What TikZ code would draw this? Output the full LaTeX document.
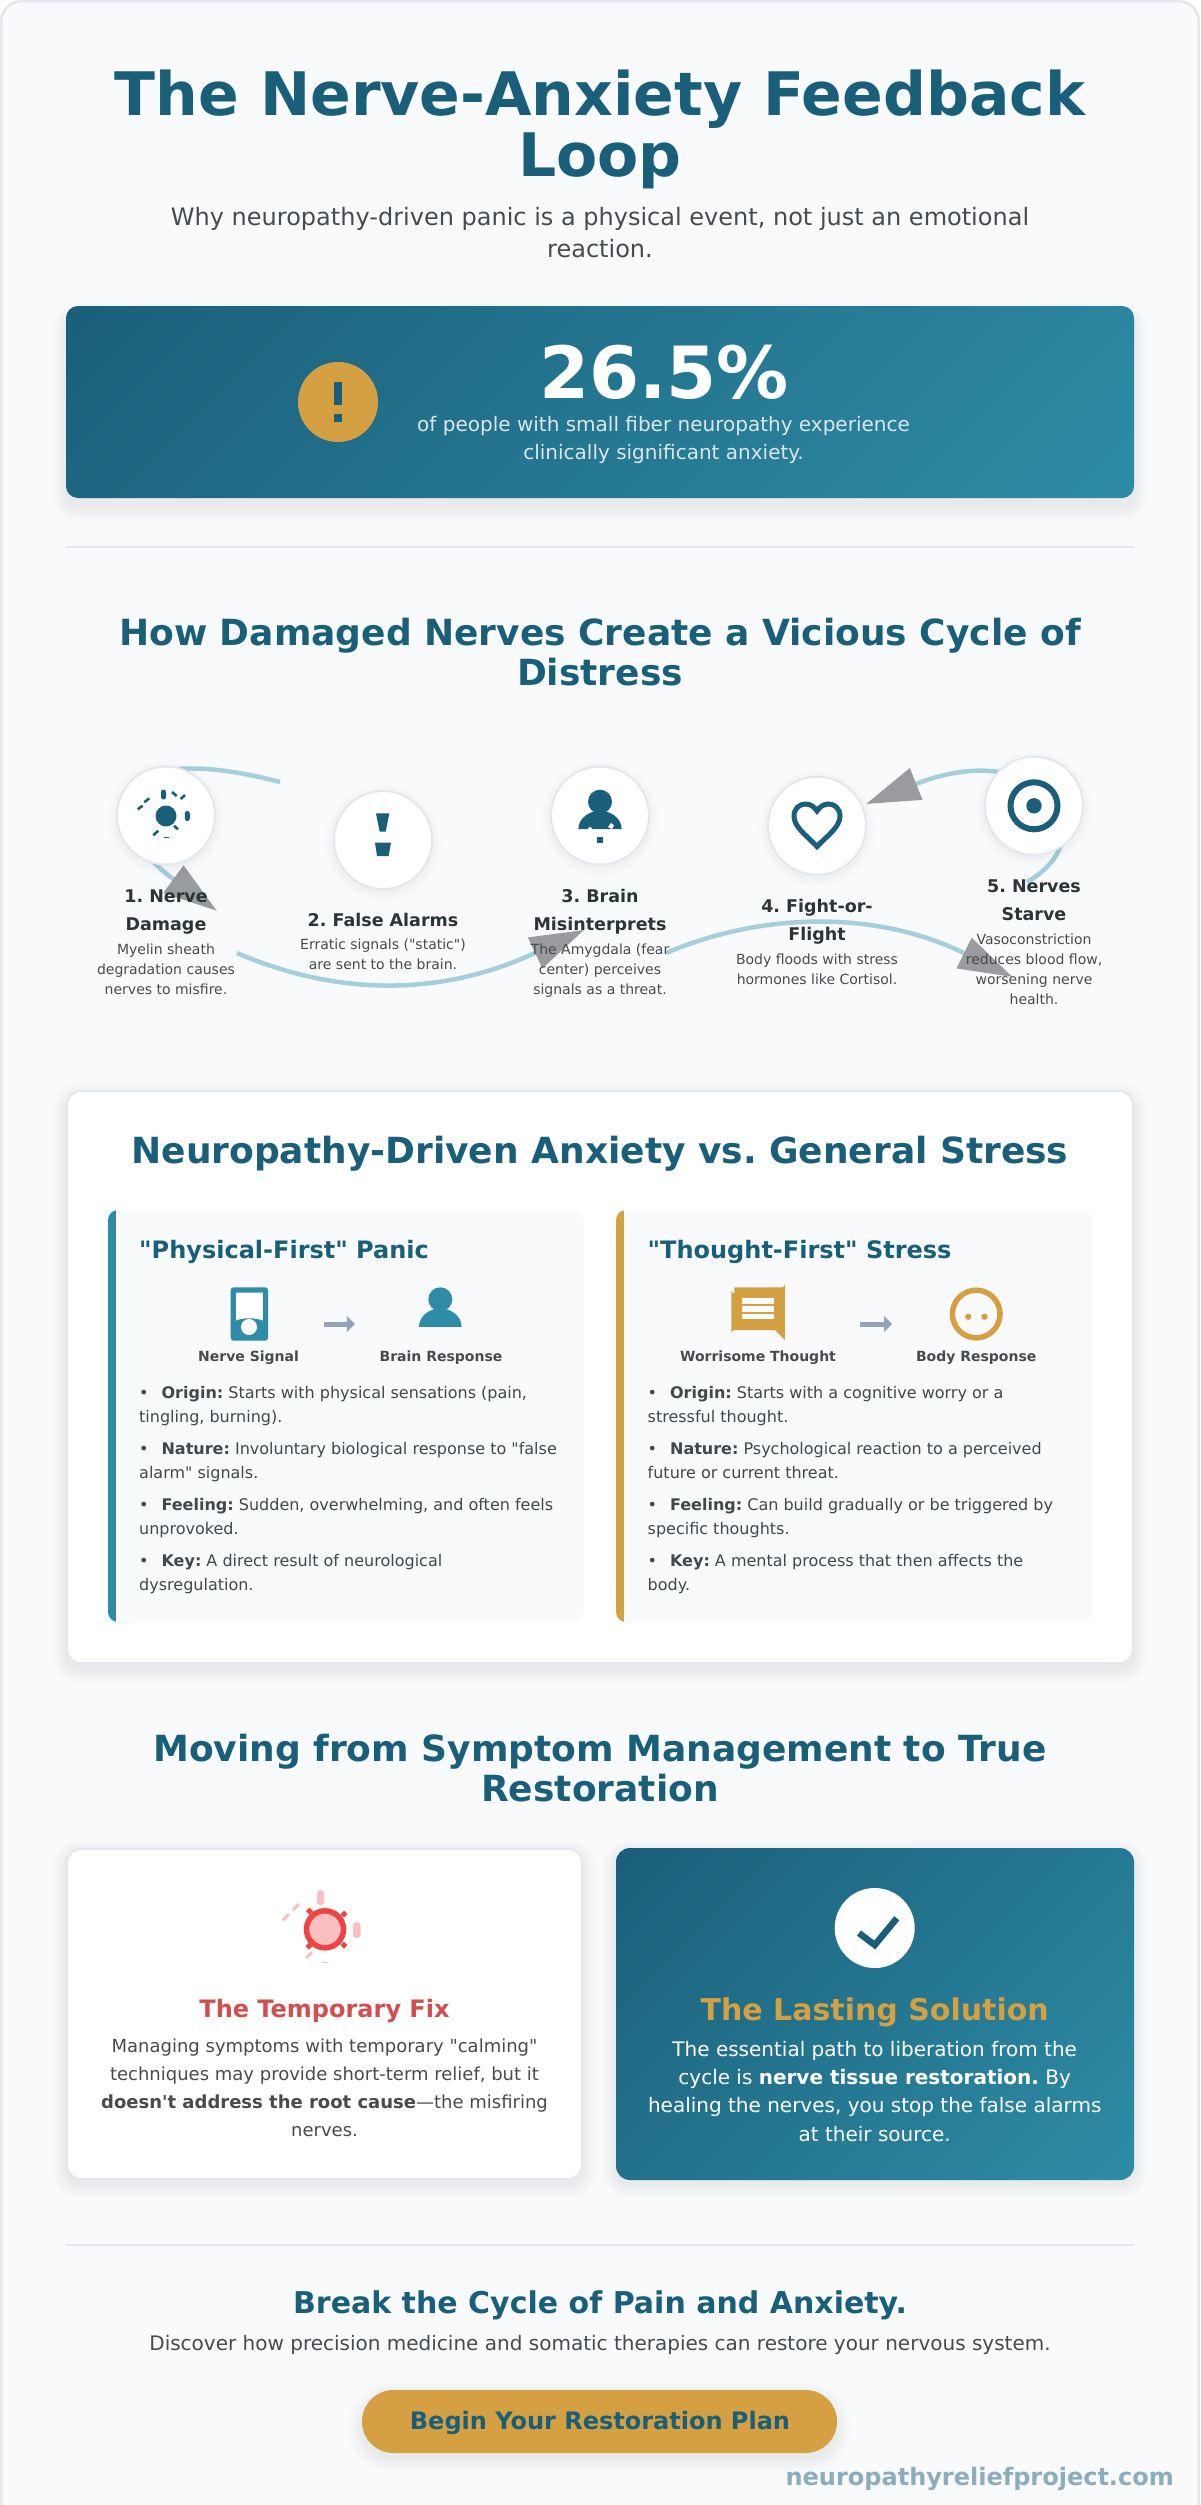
\documentclass[tikz,border=0pt]{standalone}
\usepackage{fontspec}
\setmainfont{DejaVu Sans}[Ligatures=TeXOff]
\usetikzlibrary{arrows.meta}
\definecolor{primary}{HTML}{1A5F7A}
\definecolor{lightprimary}{HTML}{2E8CA6}
\definecolor{gold}{HTML}{D4A041}
\definecolor{pagebg}{HTML}{F8FAFC}
\definecolor{rulegray}{HTML}{E4E8EE}
\definecolor{darktext}{HTML}{2D3436}
\definecolor{softtext}{HTML}{484B4E}
\definecolor{arcblue}{HTML}{A5CFDA}
\definecolor{headgray}{HTML}{999B9E}
\definecolor{flowgray}{HTML}{94A3B8}
\definecolor{alarmred}{HTML}{EF4444}
\definecolor{alarmpink}{HTML}{FBBFBF}
\definecolor{fixred}{HTML}{D14F4F}
\definecolor{siteblue}{HTML}{8CADBB}
\tikzstyle{every node}=[inner sep=0pt,anchor=base]
\tikzstyle{maintitle}=[font=\fontsize{60}{61}\selectfont\bfseries,text=primary,align=center]
\tikzstyle{subtitle}=[font=\fontsize{24}{31.5}\selectfont,text=softtext,align=center]
\tikzstyle{bigstat}=[font=\fontsize{72}{80}\selectfont\bfseries,text=white]
\tikzstyle{herotext}=[font=\fontsize{20}{28}\selectfont,text=white!85!primary,align=center]
\tikzstyle{sectiontitle}=[font=\fontsize{36}{40}\selectfont\bfseries,text=primary,align=center]
\tikzstyle{steptitle}=[font=\fontsize{17.5}{28}\selectfont\bfseries,text=darktext,align=center]
\tikzstyle{steptext}=[font=\fontsize{14}{20}\selectfont,text=softtext,align=center]
\tikzstyle{stepcircle}=[circle,draw=rulegray,line width=2pt,fill=white,minimum size=98pt,anchor=center]
\tikzstyle{cycleline}=[draw=arcblue,line width=4.5pt]
\tikzstyle{cyclehead}=[-{Triangle[length=54pt,width=33pt,color=headgray]}]
\tikzstyle{paneltitle}=[font=\fontsize{24}{30}\selectfont\bfseries,text=primary,anchor=base west]
\tikzstyle{flowlabel}=[font=\fontsize{14}{18}\selectfont\bfseries,text=softtext]
\tikzstyle{flowarrow}=[draw=flowgray,line width=5pt,-{Triangle[length=8pt,width=16pt,color=flowgray]}]
\tikzstyle{itemtext}=[font=\fontsize{16}{24}\selectfont,text=darktext!90!white,align=left,anchor=base west]
\tikzstyle{fixtitle}=[font=\fontsize{24}{30}\selectfont\bfseries,text=fixred]
\tikzstyle{fixtext}=[font=\fontsize{18}{28}\selectfont,text=softtext,align=center]
\tikzstyle{lasttitle}=[font=\fontsize{30}{36}\selectfont\bfseries,text=gold]
\tikzstyle{lasttext}=[font=\fontsize{20}{28.3}\selectfont,text=white,align=center]
\tikzstyle{ctatitle}=[font=\fontsize{30}{38}\selectfont\bfseries,text=primary]
\tikzstyle{ctatext}=[font=\fontsize{20}{26}\selectfont,text=softtext]
\tikzstyle{ctabutton}=[font=\fontsize{24}{30}\selectfont\bfseries,text=primary]
\tikzstyle{sitemark}=[font=\fontsize{24}{30}\selectfont\bfseries,text=siteblue,anchor=base east]
\newcommand{\softshadow}[6]{%
  \foreach \s in {0,2,...,14}{
    \fill[black,fill opacity=0.008,rounded corners=#5+\s] (#1-\s,#2+#6-\s) rectangle (#3+\s,#4+#6+\s);
  }}
\newcommand{\gradpanel}[5]{%
  \pgfmathsetmacro{\gcx}{(#1+#3)/2}
  \pgfmathsetmacro{\gcy}{(#2+#4)/2}
  \pgfmathsetmacro{\gL}{0.3536*(#3-#1+#4-#2)}
  \begin{scope}
    \clip[rounded corners=#5] (#1,#2) rectangle (#3,#4);
    \shade[transform canvas={rotate around={-45:(\gcx,\gcy)}},left color=primary,right color=lightprimary]
      (\gcx-\gL,\gcy-\gL) rectangle (\gcx+\gL,\gcy+\gL);
  \end{scope}}
\newcommand{\panelbox}[3]{%
  \fill[#3,rounded corners=10] (#1,1210) rectangle (#1+24,1622);
  \fill[pagebg] (#1+8,1210) [rounded corners=10] -- (#2,1210) -- (#2,1622) [sharp corners] -- (#1+8,1622) -- cycle;}
\newcommand{\personshape}[5]{%
  \fill[#5] (#1,#2) circle (#3);
  \fill[#5] (#1-#4,#2+#3+15.5) .. controls (#1-#4,#2+#3+4) and (#1-#4*0.45,#2+#3-3) .. (#1,#2+#3-3)
    .. controls (#1+#4*0.45,#2+#3-3) and (#1+#4,#2+#3+4) .. (#1+#4,#2+#3+15.5) -- cycle;}
\newcommand{\blt}{\makebox[22.4pt][l]{•}}
\begin{document}
\frenchspacing
\begin{tikzpicture}[x=1pt,y=-1pt]
  \useasboundingbox (0,0) rectangle (1200,2505);
  \fill[white] (0,0) rectangle (1200,2505);
  \fill[pagebg,draw=rulegray,line width=2.5pt] (1.25,2510) [rounded corners=20] -- (1.25,1.25) -- (1198.75,1.25) [sharp corners] -- (1198.75,2510) -- cycle;

  \node[maintitle] (mainTitle) at (600,176.8) {The Nerve-Anxiety Feedback\\Loop};
  \node[subtitle] (subTitle) at (600,257) {Why neuropathy-driven panic is a physical event, not just an emotional\\reaction.};

  \softshadow{66}{306}{1134}{498}{12}{10}
  \gradpanel{66}{306}{1134}{498}{12}
  \fill[gold] (338,402) circle (40);
  \fill[primary] (334,382) rectangle (342,405);
  \fill[primary] (334,413.6) rectangle (342,422);
  \node[bigstat] (statValue) at (664,398) {26.5\%};
  \node[herotext] (statText) at (663.5,459) {of people with small fiber neuropathy experience\\clinically significant anxiety.};
  \fill[rulegray] (66,545.5) rectangle (1134,547.5);

  \node[sectiontitle] (cycleTitle) at (600,685) {How Damaged Nerves Create a Vicious Cycle of\\Distress};

  \coordinate (arcAfrom) at (280,782);
  \coordinate (arcAtip) at (217,911);
  \coordinate (arcBfrom) at (237,953);
  \coordinate (arcBtip) at (584,930);
  \coordinate (arcCfrom) at (666,953);
  \coordinate (arcCtip) at (1012.5,977);
  \coordinate (arcDfrom) at (1027,882);
  \coordinate (arcDtip) at (866,804);
  \draw[cycleline,cyclehead] (arcAfrom) .. controls (100,735) and (94,821) .. (arcAtip);
  \draw[cycleline,cyclehead] (arcBfrom) .. controls (337,996) and (441,997) .. (arcBtip);
  \draw[cycleline,cyclehead] (arcCfrom) .. controls (765,911) and (879,911) .. (arcCtip);
  \draw[cycleline,cyclehead] (arcDfrom) .. controls (1110,835) and (1041,734) .. (arcDtip);

  \foreach \cx/\cy in {166/815.5,383/840,600/815.5,817/825.7,1034/805.8}{
    \softshadow{\cx-44}{\cy-44}{\cx+44}{\cy+44}{44}{3}
  }
  \node[stepcircle] (stepOne) at (166,815.5) {};
  \node[stepcircle] (stepTwo) at (383,840) {};
  \node[stepcircle] (stepThree) at (600,815.5) {};
  \node[stepcircle] (stepFour) at (817,825.7) {};
  \node[stepcircle] (stepFive) at (1034,805.8) {};

  \fill[primary] (166,816) circle (10.5);
  \fill[primary,rounded corners=2.4] (161,789.5) rectangle (166,799.5);
  \fill[primary,rounded corners=2.4] (184.8,811) rectangle (189.8,821);
  \foreach \xa/\ya/\xb/\yb in {172/792/176.7/796,180.7/799/185/795,137.7/809.3/142.7/805.7,144.3/802.3/149.3/798.3,174/825.7/178/829.3,153.3/835.3/158.3/830.7}{
    \draw[primary,line width=2.6pt] (\xa,\ya) -- (\xb,\yb);
  }
  \draw[primary,line width=.5pt] (163.5,837.3) -- (168.5,837.3);

  \fill[primary] (376,813.3) -- (389.3,813.3) -- (385.7,831.7) -- (379.6,831.7) -- cycle;
  \fill[primary] (375,842.7) -- (391,842.7) -- (388.6,856) -- (377,856) -- cycle;

  \personshape{600}{801.7}{12}{21.7}{primary}
  \fill[white] (590,826.5) -- (592.4,829) -- (590,831.5) -- (587.6,829) -- cycle;
  \fill[white] (611,823) -- (614,825.5) -- (612,829) -- (608,827) -- cycle;
  \fill[primary] (597.4,837.4) rectangle (602.6,842.6);

  \draw[primary,line width=5pt,miter limit=4] (817,846.5) .. controls (806,835) and (794,827) .. (794,816)
    .. controls (794,808.5) and (799.5,804) .. (805.5,804) .. controls (810.5,804) and (814.5,807) .. (817,811)
    .. controls (819.5,807) and (823.5,804) .. (828.5,804) .. controls (834.5,804) and (840,808.5) .. (840,816)
    .. controls (840,827) and (828,835) .. (817,846.5) -- cycle;

  \draw[primary,line width=6pt] (1034,805.8) circle (23.5);
  \fill[primary] (1034,805.8) circle (7.7);

  \node[steptitle] (stepOneTitle) at (166,930.7) {1. Nerve\\Damage};
  \node[steptext] (stepOneText) at (166,994) {Myelin sheath\\degradation causes\\nerves to misfire.};
  \node[steptitle] (stepTwoTitle) at (383,926.7) {2. False Alarms};
  \node[steptext] (stepTwoText) at (383,969.3) {Erratic signals ("static")\\are sent to the brain.};
  \node[steptitle] (stepThreeTitle) at (600,930.7) {3. Brain\\Misinterprets};
  \node[steptext] (stepThreeText) at (600,994) {The Amygdala (fear\\center) perceives\\signals as a threat.};
  \node[steptitle] (stepFourTitle) at (817,940.7) {4. Fight-or-\\Flight};
  \node[steptext] (stepFourText) at (817,984) {Body floods with stress\\hormones like Cortisol.};
  \node[steptitle] (stepFiveTitle) at (1034,920.7) {5. Nerves\\Starve};
  \node[steptext] (stepFiveText) at (1034,1004) {Vasoconstriction\\reduces blood flow,\\worsening nerve\\health.};

  \softshadow{66}{1090}{1134}{1664}{14}{6}
  \fill[white,draw=rulegray,line width=2pt,rounded corners=14] (67,1091) rectangle (1133,1663);
  \node[sectiontitle] (compareTitle) at (600,1163) {Neuropathy-Driven Anxiety vs. General Stress};
  \panelbox{108}{584}{lightprimary}
  \panelbox{616}{1092}{gold}

  \node[paneltitle] (physTitle) at (139,1258) {"Physical-First" Panic};
  \fill[lightprimary,rounded corners=3] (230.7,1287.3) rectangle (268,1340.7);
  \fill[white] (236,1292.7) -- (262.8,1292.7) -- (262.8,1320.5) .. controls (255,1317.5) and (243,1317.5) .. (236,1320.5) -- cycle;
  \fill[white] (249,1327) circle (8);
  \coordinate (physFrom) at (323.8,1324);
  \coordinate (physTo) at (354.8,1324);
  \draw[flowarrow] (physFrom) -- (physTo);
  \personshape{440.3}{1299.3}{12}{21.3}{lightprimary}
  \node[flowlabel] (physSignal) at (248.6,1361) {Nerve Signal};
  \node[flowlabel] (physBrain) at (441,1361) {Brain Response};
  \node[itemtext] (physOrigin) at (139,1422.7) {\blt\textbf{Origin:} Starts with physical sensations (pain,\\tingling, burning).};
  \node[itemtext] (physNature) at (139,1478.7) {\blt\textbf{Nature:} Involuntary biological response to "false\\alarm" signals.};
  \node[itemtext] (physFeeling) at (139,1534.7) {\blt\textbf{Feeling:} Sudden, overwhelming, and often feels\\unprovoked.};
  \node[itemtext] (physKey) at (139,1590.7) {\blt\textbf{Key:} A direct result of neurological\\dysregulation.};

  \node[paneltitle] (thoughtTitle) at (647.5,1258) {"Thought-First" Stress};
  \fill[gold] (734.4,1287.3) -- (781.8,1287.3) arc[start angle=90,end angle=0,radius=3] -- (784.8,1340) -- (775,1330) -- (734.4,1330) arc[start angle=-90,end angle=-180,radius=3] -- (731.4,1290.3) arc[start angle=180,end angle=90,radius=3] -- cycle;
  \fill[white] (742,1298.3) rectangle (774,1304.3);
  \fill[white] (742,1306) rectangle (774,1311.7);
  \fill[white] (742,1314) rectangle (774,1319.3);
  \coordinate (thoughtFrom) at (860.3,1324);
  \coordinate (thoughtTo) at (892,1324);
  \draw[flowarrow] (thoughtFrom) -- (thoughtTo);
  \draw[gold,line width=5.5pt] (976.2,1314) circle (23.8);
  \fill[gold] (968.3,1316.7) circle (3.2);
  \fill[gold] (984.5,1316.7) circle (3.2);
  \node[flowlabel] (thoughtWorry) at (758,1361) {Worrisome Thought};
  \node[flowlabel] (thoughtBody) at (976.2,1361) {Body Response};
  \node[itemtext] (thoughtOrigin) at (647.5,1422.7) {\blt\textbf{Origin:} Starts with a cognitive worry or a\\stressful thought.};
  \node[itemtext] (thoughtNature) at (647.5,1478.7) {\blt\textbf{Nature:} Psychological reaction to a perceived\\future or current threat.};
  \node[itemtext] (thoughtFeeling) at (647.5,1534.7) {\blt\textbf{Feeling:} Can build gradually or be triggered by\\specific thoughts.};
  \node[itemtext] (thoughtKey) at (647.5,1590.7) {\blt\textbf{Key:} A mental process that then affects the\\body.};

  \node[sectiontitle] (restoreTitle) at (600,1801) {Moving from Symptom Management to True\\Restoration};

  \softshadow{66}{1848}{583}{2180}{14}{5}
  \fill[white,draw=rulegray,line width=2pt,rounded corners=14] (67,1849) rectangle (582,2179);
  \softshadow{616}{1848}{1134}{2180}{14}{5}
  \gradpanel{616}{1848}{1134}{2180}{14}

  \fill[alarmpink,rounded corners=3.3] (317,1890) rectangle (324,1905);
  \fill[alarmpink,rounded corners=3.3] (353,1922) rectangle (360.5,1938);
  \foreach \xa/\ya/\xb/\yb in {283/1920/289/1914,293/1910/299/1904,306/1958/312/1952}{
    \draw[alarmpink,line width=3pt] (\xa,\ya) -- (\xb,\yb);
  }
  \draw[alarmpink,line width=.5pt] (322,1962) -- (328,1962);
  \foreach \dx/\dy in {309.5/1911,344/1914,344/1945,309/1946}{
    \fill[alarmred] (\dx-3.5,\dy) -- (\dx,\dy-3.5) -- (\dx+3.5,\dy) -- (\dx,\dy+3.5) -- cycle;
  }
  \fill[alarmpink,draw=alarmred,line width=5.5pt] (325,1929.3) circle (18.5);
  \node[fixtitle] (fixTitle) at (324.5,2017) {The Temporary Fix};
  \node[fixtext] (fixText) at (324.5,2136.7) {Managing symptoms with temporary "calming"\\techniques may provide short-term relief, but it\\\textbf{doesn't address the root cause}—the misfiring\\nerves.};

  \fill[white] (874.7,1928) circle (40);
  \draw[primary,line width=6.5pt] (859,1933) -- (874.7,1945) -- (896.8,1918.3);
  \node[lasttitle] (lastTitle) at (874.7,2020) {The Lasting Solution};
  \node[lasttext] (lastText) at (874.7,2141) {The essential path to liberation from the\\cycle is \textbf{nerve tissue restoration.} By\\healing the nerves, you stop the false alarms\\at their source.};

  \fill[rulegray] (66,2244) rectangle (1134,2246);

  \node[ctatitle] (ctaTitle) at (600,2313) {Break the Cycle of Pain and Anxiety.};
  \node[ctatext] (ctaText) at (600,2350.7) {Discover how precision medicine and somatic therapies can restore your nervous system.};
  \softshadow{362}{2390}{837}{2453}{31}{6}
  \fill[gold,rounded corners=31.5] (362,2390) rectangle (837,2453);
  \node[ctabutton] (ctaButton) at (600,2429) {Begin Your Restoration Plan};
  \node[sitemark] (siteMark) at (1174,2485) {neuropathyreliefproject.com};
\end{tikzpicture}
\end{document}
